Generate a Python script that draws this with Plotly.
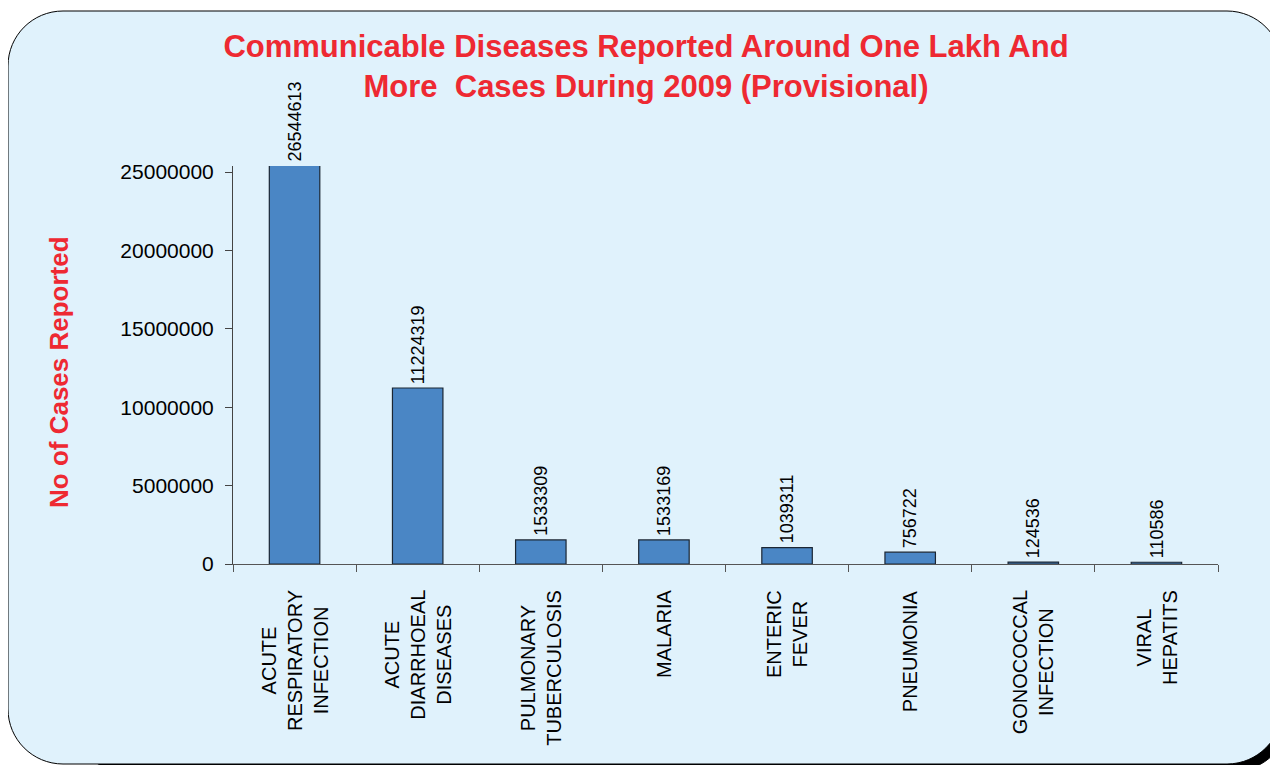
import plotly.graph_objects as go

# ---- data ----
categories = [
    "ACUTE<br>RESPIRATORY<br>INFECTION",
    "ACUTE<br>DIARRHOEAL<br>DISEASES",
    "PULMONARY<br>TUBERCULOSIS",
    "MALARIA",
    "ENTERIC<br>FEVER",
    "PNEUMONIA",
    "GONOCOCCAL<br>INFECTION",
    "VIRAL<br>HEPATITS",
]
cases = [26544613, 11224319, 1533309, 1533169, 1039311, 756722, 124536, 110586]
ytick_vals = [0, 5000000, 10000000, 15000000, 20000000, 25000000]
ytick_text = ["0", "5000000", "10000000", "15000000", "20000000", "25000000"]

title_text = ("Communicable Diseases Reported Around One Lakh And<br>"
              "More&nbsp; Cases During 2009 (Provisional)")
ytitle = "No of Cases Reported"

# ---- layout geometry (screen pixels) ----
W, H = 1278, 765
OFF = 8  # page margin of the html body
L, R, T, B = 233, 1218, 166, 564
YMAX = 25000000 * (B - T) / (B - 172)

FONT = "Arial, Liberation Sans, sans-serif"
RED = "#EE2932"
PANEL = "#E0F2FC"
BAR = "#4A86C5"


def px(x):
    return (x - L) / (R - L)


def py(y):
    return (B - y) / (B - T)


def rounded_path(x0, y0, x1, y1, r):
    k = 0.5523 * r
    pts = []
    pts.append(f"M {px(x0 + r)},{py(y0)}")
    pts.append(f"L {px(x1 - r)},{py(y0)}")
    pts.append(f"C {px(x1 - r + k)},{py(y0)} {px(x1)},{py(y0 + r - k)} {px(x1)},{py(y0 + r)}")
    pts.append(f"L {px(x1)},{py(y1 - r)}")
    pts.append(f"C {px(x1)},{py(y1 - r + k)} {px(x1 - r + k)},{py(y1)} {px(x1 - r)},{py(y1)}")
    pts.append(f"L {px(x0 + r)},{py(y1)}")
    pts.append(f"C {px(x0 + r - k)},{py(y1)} {px(x0)},{py(y1 - r + k)} {px(x0)},{py(y1 - r)}")
    pts.append(f"L {px(x0)},{py(y0 + r)}")
    pts.append(f"C {px(x0)},{py(y0 + r - k)} {px(x0 + r - k)},{py(y0)} {px(x0 + r)},{py(y0)}")
    pts.append("Z")
    return " ".join(pts)


fig = go.Figure()
fig.add_trace(go.Bar(
    x=categories, y=cases,
    marker=dict(color=BAR, line=dict(color="#1B2633", width=1.2)),
    width=0.41,
    hoverinfo="x+y",
))

shapes = [
    dict(type="path", xref="paper", yref="paper", layer="below",
         path=rounded_path(70, 40, 1289, 771, 55),
         fillcolor="black", line=dict(color="black", width=1)),
    dict(type="path", xref="paper", yref="paper", layer="below",
         path=rounded_path(8, 11, 1282, 764, 55),
         fillcolor=PANEL, line=dict(color="black", width=1)),
]

annotations = []
for c, v in zip(categories, cases):
    annotations.append(dict(
        x=c, y=min(v, YMAX), xref="x", yref="y",
        text=str(v), textangle=-90, showarrow=False,
        yanchor="bottom", xanchor="center", yshift=2,
        font=dict(family=FONT, size=18, color="black"),
    ))
    annotations.append(dict(
        x=c, y=0, xref="x", yref="paper",
        text=c, textangle=-90, showarrow=False, align="center",
        yanchor="top", xanchor="center", yshift=-24,
        font=dict(family=FONT, size=20, color="black"),
    ))

annotations.append(dict(
    x=px(59), y=py(372), xref="paper", yref="paper",
    text=ytitle, textangle=-90, showarrow=False,
    xanchor="center", yanchor="middle",
    font=dict(family=FONT, size=26, color=RED, weight="bold"),
))

fig.update_layout(
    width=W, height=H,
    margin=dict(l=L - OFF, r=W - (R - OFF), t=T - OFF, b=H - (B - OFF), autoexpand=False),
    paper_bgcolor="white",
    plot_bgcolor="rgba(0,0,0,0)",
    showlegend=False,
    shapes=shapes,
    annotations=annotations,
    title=dict(text=title_text, x=(646 - OFF) / W, xanchor="center",
               y=1 - 49 / H, yanchor="top", xref="container", yref="container",
               font=dict(family=FONT, size=31, color=RED, weight="bold")),
    xaxis=dict(
        showticklabels=False, tickson="boundaries", ticks="outside",
        ticklen=7, tickcolor="#555555", showline=True, linecolor="#555555",
        linewidth=1, showgrid=False, zeroline=False, range=[-0.5, 7.5],
    ),
    yaxis=dict(
        range=[0, YMAX], tickmode="array", tickvals=ytick_vals, ticktext=ytick_text,
        ticks="outside", ticklen=7, tickcolor="#444444", showline=True,
        linecolor="#444444", linewidth=1, showgrid=False, zeroline=False,
        ticklabelstandoff=7,
        tickfont=dict(family=FONT, size=21, color="black"),
    ),
    bargap=0.59,
)

fig.write_html("out.html")
